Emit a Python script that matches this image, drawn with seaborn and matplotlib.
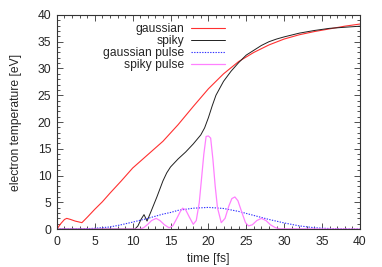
import numpy as np
import matplotlib
matplotlib.use('Agg')
import matplotlib.pyplot as plt
from matplotlib.ticker import MultipleLocator
import seaborn as sns

# values
t_gauss = [0, 0.5, 1.0, 1.3, 1.8, 2.4, 3.0, 3.3, 4.0, 5.0, 6.0, 7.0, 8.5, 10, 12, 14, 16, 18, 20,
           22, 24, 26, 28, 30, 32, 34, 36, 38, 40]
T_gauss = [0, 1.0, 1.8, 2.0, 1.8, 1.5, 1.3, 1.2, 2.2, 3.7, 5.1, 6.7, 9.0, 11.4, 13.9, 16.4, 19.5,
           22.9, 26.2, 29.0, 31.3, 33.0, 34.4, 35.5, 36.3, 36.9, 37.4, 37.9, 38.3]

t_spiky = [0, 10.3, 10.7, 11.1, 11.5, 11.9, 12.4, 13.2, 14.0, 14.5, 15.0, 16.0, 17.0, 18.0, 19.0,
           19.5, 20.0, 20.5, 21.0, 22.0, 23.0, 24.0, 25.0, 26.0, 27.0, 28.0, 29.0, 30.0, 32.0,
           34.0, 36.0, 38.0, 40.0]
T_spiky = [0, 0, 0.6, 1.8, 2.7, 1.5, 3.2, 6.0, 9.0, 10.5, 11.6, 13.1, 14.4, 15.9, 17.6,
           18.9, 20.8, 23.0, 25.0, 27.6, 29.5, 31.1, 32.5, 33.4, 34.3, 35.0, 35.5, 35.9, 36.6,
           37.1, 37.5, 37.7, 37.9]

t_gpulse = [0, 2, 4, 5, 7, 8.3, 10, 12, 14, 15, 16, 18, 20, 22, 24, 26, 28, 30, 32, 34, 36, 38, 40]
P_gpulse = [0, 0.02, 0.08, 0.15, 0.4, 0.75, 1.3, 2.0, 2.8, 3.1, 3.5, 3.9, 4.05, 3.85, 3.3, 2.55,
            1.8, 1.15, 0.6, 0.25, 0.1, 0.03, 0]

t_spulse = [0, 11.0, 11.5, 12.0, 12.5, 13.1, 13.6, 14.2, 14.8, 15.3, 15.8, 16.3, 16.6, 17.0, 17.5,
            18.0, 18.4, 18.8, 19.1, 19.4, 19.7, 20.0, 20.3, 20.6, 20.9, 21.2, 21.7, 22.2, 22.7,
            23.1, 23.5, 23.9, 24.4, 24.9, 25.3, 25.8, 26.4, 27.0, 27.6, 28.2, 28.8, 29.4, 40]
P_spulse = [0, 0, 0.3, 0.9, 1.6, 2.0, 1.6, 0.8, 0.25, 0.6, 1.9, 3.3, 3.9, 3.6, 2.2,
            0.9, 1.6, 5.0, 9.5, 14.0, 17.3, 17.4, 17.0, 13.0, 8.0, 4.0, 1.2, 2.0, 4.3,
            5.7, 6.0, 5.3, 3.2, 1.2, 0.6, 0.8, 1.6, 2.0, 1.6, 0.8, 0.3, 0.05, 0]

sns.set_style('ticks')
plt.rcParams['font.family'] = ['Liberation Sans', 'DejaVu Sans']
fs = 8.7

fig = plt.figure(figsize=(3.82, 2.67), dpi=100)
ax = fig.add_axes([0.149, 0.142, 0.793, 0.802])

sns.lineplot(x=t_gauss, y=T_gauss, ax=ax, color='#ff3030', lw=0.8, label='gaussian',
             sort=False, estimator=None)
sns.lineplot(x=t_spiky, y=T_spiky, ax=ax, color='#202020', lw=0.7, label='spiky',
             sort=False, estimator=None)
sns.lineplot(x=t_gpulse, y=P_gpulse, ax=ax, color='#3030ff', lw=0.8, ls=(0, (1.2, 1.2)),
             label='gaussian pulse', sort=False, estimator=None)
sns.lineplot(x=t_spulse, y=P_spulse, ax=ax, color='#ff80ff', lw=0.9, label='spiky pulse',
             sort=False, estimator=None)

ax.set_xlim(0, 40)
ax.set_ylim(0, 40)
ax.xaxis.set_major_locator(MultipleLocator(5))
ax.xaxis.set_minor_locator(MultipleLocator(1))
ax.yaxis.set_major_locator(MultipleLocator(5))
ax.yaxis.set_minor_locator(MultipleLocator(1))
ax.tick_params(which='both', direction='in', top=True, right=True, color='#333333',
               labelsize=fs, width=0.6)
ax.tick_params(axis='x', pad=5)
ax.tick_params(axis='y', pad=4)
ax.tick_params(which='major', length=4)
ax.tick_params(which='minor', length=2)
for s in ax.spines.values():
    s.set_linewidth(0.8)
    s.set_color('#333333')

ax.set_xlabel('time [fs]', fontsize=fs, labelpad=3.5)
ax.set_ylabel('electron temperature [eV]', fontsize=fs, labelpad=11)

ax.legend(loc='upper left', bbox_to_anchor=(0.125, 1.0), frameon=False, markerfirst=False,
          fontsize=fs, handlelength=2.8, labelspacing=0.0, borderaxespad=0.25, handletextpad=0.6)

fig.savefig('out.png', dpi=100)
